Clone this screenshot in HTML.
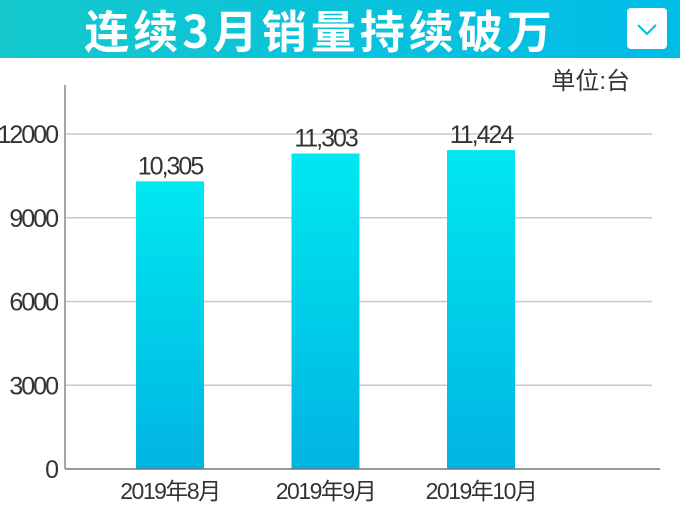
<!DOCTYPE html>
<html><head><meta charset="utf-8"><style>
body{margin:0;width:680px;height:510px;overflow:hidden;background:#fff;font-family:"Liberation Sans","Noto Sans CJK SC",sans-serif;position:relative}
.hdr{position:absolute;left:0;top:0;width:680px;height:58px;background:linear-gradient(90deg,#14c8cc,#00bde8)}
.ttl{position:absolute;left:0;width:640px;top:0;height:58px;line-height:58px;text-align:center;color:#fff;font-weight:bold;font-size:45px;font-family:"Noto Sans CJK SC",sans-serif;letter-spacing:4px}
.btn{position:absolute;left:627px;top:8px;width:40px;height:41px;background:#fff;border-radius:4px}
</style></head><body>
<div class="hdr">
<div class="ttl">连续3月销量持续破万</div>
<div class="btn"><svg width="40" height="41"><polyline points="11,17 20,26 29,17" fill="none" stroke="#00bde8" stroke-width="2"/></svg></div>
</div>
<svg id="c" width="680" height="510" style="position:absolute;left:0;top:0"></svg>
<script>
const categories=["2019年8月","2019年9月","2019年10月"];
const values=[10305,11303,11424];
const valueLabels=["10,305","11,303","11,424"];
const ticks=[0,3000,6000,9000,12000];
const NS="http://www.w3.org/2000/svg",svg=document.getElementById('c');
const y=v=>469-v*335/12000;
const xc=i=>170+i*155.5;
function el(t,a){const e=document.createElementNS(NS,t);for(const k in a)e.setAttribute(k,a[k]);svg.appendChild(e);return e;}
const defs=el('defs',{});
defs.innerHTML='<linearGradient id="g" x1="0" y1="0" x2="0" y2="1"><stop offset="0" stop-color="#00e8f0"/><stop offset="1" stop-color="#00b4e2"/></linearGradient>';
ticks.forEach(t=>{
 if(t>0){const l=el('line',{x1:65,x2:652,y1:y(t),y2:y(t),stroke:'#c8c8c8','stroke-width':1.5});
 
 }
 const tx=el('text',{x:57,y:y(t)+9,'text-anchor':'end','font-size':25,fill:'#333','letter-spacing':'-2'});
 tx.textContent=t;
 
 
});
values.forEach((v,i)=>{
 const r=el('rect',{x:xc(i)-34,y:y(v),width:68,height:469-y(v),fill:'url(#g)'});
 
 
 const t=el('text',{x:xc(i),y:y(v)-7,'text-anchor':'middle','font-size':25,fill:'#333','letter-spacing':'-2'});
 t.textContent=valueLabels[i];
 
 
 const c=el('text',{x:xc(i),y:499,'text-anchor':'middle','font-size':23,fill:'#333','letter-spacing':'-1.5'});
 c.textContent=categories[i];
 
 
});
const ax=el('line',{x1:65,x2:65,y1:85,y2:469,stroke:'#888','stroke-width':1.5});


const bx=el('line',{x1:65,x2:660,y1:469,y2:469,stroke:'#777','stroke-width':1.5});


const u=el('text',{x:630,y:89,'text-anchor':'end','font-size':24,fill:'#333'});
u.textContent='单位:台';


</script>
</body></html>
